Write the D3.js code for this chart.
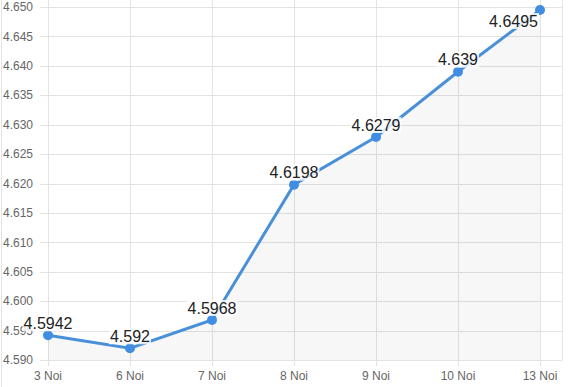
<!DOCTYPE html>
<html>
<head>
<meta charset="utf-8">
<script src="https://cdn.jsdelivr.net/npm/d3@7"></script>
<style>
  html, body { margin: 0; padding: 0; background: #fff; }
  svg { display: block; font-family: "Liberation Sans", Arial, sans-serif; }
</style>
</head>
<body>
<div id="chart"></div>
<script>
const days = ['3 Noi', '6 Noi', '7 Noi', '8 Noi', '9 Noi', '10 Noi', '13 Noi']
const rates = [4.5942, 4.592, 4.5968, 4.6198, 4.6279, 4.639, 4.6495]
const yTicks = [4.590, 4.595, 4.600, 4.605, 4.610, 4.615, 4.620, 4.625, 4.630, 4.635, 4.640, 4.645, 4.650]

const width = 575
const height = 387
const plotLeft = 40
const plotRight = 562

const x = d3.scalePoint().domain(days).range([48, 540])
const y = d3.scaleLinear().domain([4.590, 4.650]).range([360, 7])

const svg = d3.select('#chart').append('svg')
  .attr('width', width)
  .attr('height', height)

// faint left border
svg.append('line')
  .attr('x1', 1.5).attr('x2', 1.5).attr('y1', 0).attr('y2', height)
  .attr('stroke', '#e4e4e4')

// horizontal grid
svg.append('g').selectAll('line')
  .data(yTicks)
  .join('line')
  .attr('x1', plotLeft).attr('x2', plotRight)
  .attr('y1', d => Math.round(y(d)) + 0.5)
  .attr('y2', d => Math.round(y(d)) + 0.5)
  .attr('stroke', '#e3e3e3')

// vertical grid
svg.append('g').selectAll('line')
  .data(days)
  .join('line')
  .attr('x1', d => Math.round(x(d)) + 0.5)
  .attr('x2', d => Math.round(x(d)) + 0.5)
  .attr('y1', 0).attr('y2', 366)
  .attr('stroke', '#e3e3e3')

svg.append('line')
  .attr('x1', plotRight + 0.5).attr('x2', plotRight + 0.5)
  .attr('y1', 0).attr('y2', 360)
  .attr('stroke', '#e3e3e3')

// y labels
svg.append('g').selectAll('text')
  .data(yTicks)
  .join('text')
  .attr('x', 3)
  .attr('y', d => y(d))
  .attr('dy', '0.35em')
  .attr('font-size', 12)
  .attr('fill', '#666')
  .text(d => d3.format('.3f')(d))

// x labels
svg.append('g').selectAll('text')
  .data(days)
  .join('text')
  .attr('x', d => x(d))
  .attr('y', 380)
  .attr('text-anchor', 'middle')
  .attr('font-size', 12)
  .attr('fill', '#666')
  .text(d => d)

const pts = days.map((d, i) => ({ day: d, value: rates[i] }))

// area
const area = d3.area()
  .x(d => x(d.day))
  .y0(y(4.590))
  .y1(d => y(d.value))
svg.append('path')
  .datum(pts)
  .attr('d', area)
  .attr('fill', 'rgba(0,0,0,0.03)')

// line
const line = d3.line()
  .x(d => x(d.day))
  .y(d => y(d.value))
svg.append('path')
  .datum(pts)
  .attr('d', line)
  .attr('fill', 'none')
  .attr('stroke', '#4a90d9')
  .attr('stroke-width', 3)

// points
svg.append('g').selectAll('circle')
  .data(pts)
  .join('circle')
  .attr('cx', d => x(d.day))
  .attr('cy', d => y(d.value))
  .attr('r', 5)
  .attr('fill', '#3f8ee2')

// value labels, kept inside the plot
const labels = svg.append('g').selectAll('g')
  .data(pts)
  .join('g')

labels.each(function (d) {
  const g = d3.select(this)
  const txt = String(d.value)
  const t = g.append('text')
    .attr('text-anchor', 'middle')
    .attr('font-size', 16)
    .attr('fill', '#222')
    .text(txt)
  const w = t.node().getComputedTextLength()
  let cx = x(d.day)
  let cy = y(d.value) - 12
  if (cx + w / 2 > 538) cx = 538 - w / 2
  if (cy < 21) cy = 21
  t.attr('x', cx).attr('y', cy).attr('dy', '0.35em')
  g.insert('rect', 'text')
    .attr('x', cx - w / 2 - 1)
    .attr('y', cy - 8)
    .attr('width', w + 2)
    .attr('height', 16)
    .attr('fill', '#fff')
    .attr('opacity', 0.8)
})
</script>
</body>
</html>
